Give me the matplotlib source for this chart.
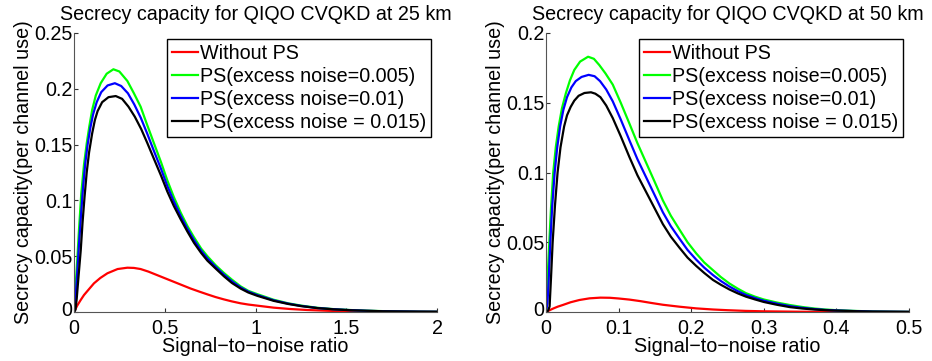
import matplotlib
matplotlib.use("Agg")
import matplotlib.pyplot as plt
from matplotlib.transforms import ScaledTranslation

plt.rcParams['font.family'] = ['Liberation Sans', 'DejaVu Sans']

# ---- data ----
labels = ['Without PS', 'PS(excess noise=0.005)', 'PS(excess noise=0.01)', 'PS(excess noise = 0.015)']
colors = ['#ff0000', '#00ff00', '#0000ff', '#000000']

# 25 km
x25_red = [0, 0.018, 0.037, 0.055, 0.08, 0.11, 0.145, 0.184, 0.24, 0.294, 0.33, 0.367, 0.41, 0.459, 0.505, 0.551, 0.597,
           0.643, 0.69, 0.735, 0.78, 0.826, 0.87, 0.918, 0.96, 1.01, 1.10, 1.19, 1.285, 1.4, 1.5, 1.62, 1.75, 1.9, 2.0]
y25_red = [0, 0.0058, 0.0108, 0.0152, 0.020, 0.0257, 0.0305, 0.0347, 0.0385, 0.0397, 0.0395, 0.0385, 0.0362, 0.033, 0.030,
           0.027, 0.024, 0.021, 0.0183, 0.0158, 0.0134, 0.0113, 0.0095, 0.0078, 0.0067, 0.0057, 0.0039, 0.0027, 0.0018,
           0.0011, 0.0007, 0.0004, 0.0003, 0.0002, 0.0001]

x25_green = [0, 0.005, 0.01, 0.018, 0.028, 0.04, 0.055, 0.07, 0.085, 0.10, 0.12, 0.147, 0.18, 0.217, 0.25, 0.294, 0.33,
             0.367, 0.40, 0.441, 0.48, 0.514, 0.55, 0.588, 0.625, 0.661, 0.70, 0.735, 0.78, 0.826, 0.87, 0.918, 0.96,
             1.01, 1.10, 1.18, 1.25, 1.34, 1.43, 1.52, 1.61, 1.7, 1.8, 1.9, 2.0]
y25_green = [0, 0.012, 0.026, 0.047, 0.075, 0.106, 0.132, 0.151, 0.167, 0.181, 0.194, 0.205, 0.2135, 0.2175, 0.2155,
             0.207, 0.196, 0.184, 0.169, 0.151, 0.134, 0.118, 0.103, 0.089, 0.077, 0.067, 0.057, 0.050, 0.042, 0.035,
             0.029, 0.023, 0.019, 0.016, 0.011, 0.0078, 0.0058, 0.0038, 0.0026, 0.0018, 0.0012, 0.0008, 0.0005, 0.0003,
             0.0002]

x25_blue = [0, 0.004, 0.01, 0.018, 0.028, 0.04, 0.05, 0.062, 0.075, 0.09, 0.105, 0.125, 0.15, 0.185, 0.225, 0.26, 0.297,
            0.332, 0.368, 0.403, 0.441, 0.48, 0.514, 0.55, 0.588, 0.625, 0.661, 0.70, 0.735, 0.78, 0.826, 0.87, 0.918,
            0.96, 1.01, 1.10, 1.18, 1.25, 1.34, 1.43, 1.52, 1.61, 1.7, 1.8, 1.9, 2.0]
y25_blue = [0, 0.003, 0.016, 0.036, 0.062, 0.09, 0.112, 0.133, 0.150, 0.165, 0.177, 0.188, 0.197, 0.203, 0.205, 0.2025,
            0.196, 0.186, 0.174, 0.160, 0.144, 0.128, 0.113, 0.099, 0.086, 0.0745, 0.0645, 0.055, 0.048, 0.0405, 0.0335,
            0.0275, 0.022, 0.0183, 0.0152, 0.0105, 0.0075, 0.0055, 0.0036, 0.0025, 0.0017, 0.0011, 0.0007, 0.0005,
            0.0003, 0.0002]

x25_black = [0, 0.008, 0.015, 0.025, 0.037, 0.047, 0.058, 0.07, 0.083, 0.10, 0.115, 0.13, 0.155, 0.19, 0.23, 0.265, 0.30,
             0.335, 0.37, 0.405, 0.441, 0.48, 0.514, 0.55, 0.588, 0.625, 0.661, 0.70, 0.735, 0.78, 0.826, 0.87, 0.918,
             0.96, 1.01, 1.10, 1.18, 1.25, 1.34, 1.43, 1.52, 1.61, 1.7, 1.8, 1.9, 2.0]
y25_black = [0, 0.002, 0.012, 0.032, 0.055, 0.08, 0.103, 0.125, 0.143, 0.160, 0.172, 0.180, 0.188, 0.1925, 0.1935, 0.191,
             0.184, 0.175, 0.164, 0.151, 0.137, 0.122, 0.108, 0.095, 0.083, 0.072, 0.062, 0.053, 0.046, 0.039, 0.032,
             0.026, 0.021, 0.0175, 0.0145, 0.010, 0.0072, 0.0053, 0.0035, 0.0024, 0.0016, 0.0011, 0.0007, 0.0005,
             0.0003, 0.0002]

# 50 km
x50_red = [0, 0.005, 0.01, 0.016, 0.023, 0.034, 0.046, 0.06, 0.075, 0.088, 0.10, 0.115, 0.13, 0.145, 0.161, 0.184, 0.207,
           0.23, 0.25, 0.275, 0.30, 0.35, 0.4, 0.5]
y50_red = [0, 0.0013, 0.0025, 0.0038, 0.005, 0.007, 0.0086, 0.0098, 0.0103, 0.0102, 0.0097, 0.0089, 0.0078, 0.0065,
           0.0052, 0.0038, 0.0026, 0.0018, 0.0013, 0.0008, 0.0005, 0.0002, 0.0001, 0.0]

x50_green = [0, 0.002, 0.0046, 0.007, 0.010, 0.0135, 0.0175, 0.022, 0.0275, 0.033, 0.039, 0.047, 0.058, 0.066, 0.0735,
             0.082, 0.092, 0.103, 0.115, 0.126, 0.138, 0.15, 0.161, 0.172, 0.184, 0.195, 0.207, 0.218, 0.23, 0.241,
             0.2525, 0.264, 0.2755, 0.288, 0.30, 0.318, 0.336, 0.353, 0.37, 0.385, 0.40, 0.425, 0.45, 0.475, 0.5]
y50_green = [0, 0.022, 0.05, 0.075, 0.10, 0.118, 0.133, 0.146, 0.157, 0.166, 0.1735, 0.1795, 0.183, 0.1815, 0.177, 0.171,
             0.163, 0.150, 0.135, 0.121, 0.107, 0.093, 0.080, 0.069, 0.059, 0.050, 0.042, 0.0355, 0.030, 0.025, 0.0205,
             0.0168, 0.0135, 0.011, 0.009, 0.0068, 0.005, 0.0036, 0.0025, 0.0018, 0.0013, 0.0008, 0.0004, 0.0002, 0.0001]

x50_blue = [0, 0.002, 0.0035, 0.006, 0.0085, 0.012, 0.0155, 0.0195, 0.024, 0.029, 0.035, 0.041, 0.049, 0.0588, 0.067,
            0.0745, 0.083, 0.092, 0.103, 0.115, 0.126, 0.138, 0.15, 0.161, 0.172, 0.184, 0.195, 0.207, 0.218, 0.23, 0.241,
            0.2525, 0.264, 0.2755, 0.288, 0.30, 0.318, 0.336, 0.353, 0.37, 0.385, 0.40, 0.425, 0.45, 0.475, 0.5]
y50_blue = [0, 0.006, 0.02, 0.05, 0.075, 0.10, 0.118, 0.133, 0.145, 0.154, 0.161, 0.1655, 0.1685, 0.170, 0.169, 0.1655,
            0.1595, 0.151, 0.138, 0.123, 0.1095, 0.0965, 0.0835, 0.0715, 0.0615, 0.0525, 0.0445, 0.0375, 0.0318, 0.0265,
            0.0222, 0.0183, 0.015, 0.0122, 0.010, 0.0081, 0.006, 0.0042, 0.003, 0.0021, 0.0015, 0.0011, 0.0007, 0.0003,
            0.0002, 0.0001]

x50_black = [0, 0.003, 0.005, 0.007, 0.0092, 0.0125, 0.016, 0.020, 0.025, 0.029, 0.034, 0.039, 0.045, 0.053, 0.062,
             0.068, 0.075, 0.083, 0.092, 0.103, 0.115, 0.126, 0.138, 0.15, 0.161, 0.172, 0.184, 0.195, 0.207, 0.218,
             0.23, 0.241, 0.2525, 0.264, 0.2755, 0.288, 0.30, 0.318, 0.336, 0.353, 0.37, 0.385, 0.40, 0.425, 0.45,
             0.475, 0.5]
y50_black = [0, 0.001, 0.004, 0.025, 0.05, 0.077, 0.10, 0.118, 0.133, 0.141, 0.147, 0.1515, 0.155, 0.157, 0.1575, 0.1565,
             0.154, 0.148, 0.139, 0.126, 0.111, 0.098, 0.086, 0.074, 0.063, 0.054, 0.046, 0.039, 0.033, 0.028, 0.023,
             0.0195, 0.0162, 0.0134, 0.011, 0.009, 0.0072, 0.0052, 0.0035, 0.0025, 0.0018, 0.0013, 0.001, 0.0006,
             0.0003, 0.0002, 0.0001]

panels = [
    dict(title='Secrecy capacity for QIQO CVQKD at 25 km',
         series=[(x25_red, y25_red), (x25_green, y25_green), (x25_blue, y25_blue), (x25_black, y25_black)],
         xlim=2, ylim=0.25,
         xticks=[0, 0.5, 1, 1.5, 2], xticklabels=['0', '0.5', '1', '1.5', '2'],
         yticks=[0, 0.05, 0.1, 0.15, 0.2, 0.25], yticklabels=['0', '0.05', '0.1', '0.15', '0.2', '0.25']),
    dict(title='Secrecy capacity for QIQO CVQKD at 50 km',
         series=[(x50_red, y50_red), (x50_green, y50_green), (x50_blue, y50_blue), (x50_black, y50_black)],
         xlim=0.5, ylim=0.2,
         xticks=[0, 0.1, 0.2, 0.3, 0.4, 0.5], xticklabels=['0', '0.1', '0.2', '0.3', '0.4', '0.5'],
         yticks=[0, 0.05, 0.1, 0.15, 0.2], yticklabels=['0', '0.05', '0.1', '0.15', '0.2']),
]

FS = 14.2

fig = plt.figure(figsize=(9.32, 3.61), dpi=100)
axes_pos = [[0.0794, 0.1357, 0.3895, 0.7729], [0.5858, 0.1357, 0.3895, 0.7729]]

for pos, p in zip(axes_pos, panels):
    ax = fig.add_axes(pos)
    for (xs, ys), c, lab in zip(p['series'], colors, labels):
        ax.plot(xs, ys, color=c, lw=1.6, label=lab, solid_joinstyle='round')
    ax.set_xlim(0, p['xlim'])
    ax.set_ylim(0, p['ylim'])
    ax.set_xticks(p['xticks'])
    ax.set_xticklabels(p['xticklabels'])
    ax.set_yticks(p['yticks'])
    ax.set_yticklabels(p['yticklabels'])
    ax.tick_params(direction='in', length=3, labelsize=FS, colors='#333333', labelcolor='black')
    ax.tick_params(axis='x', pad=5)
    ax.tick_params(axis='y', pad=1)
    # lift the "0" on the y axis a little so it clears the "0" below it
    lab0 = ax.get_yticklabels()[0]
    lab0.set_transform(lab0.get_transform() + ScaledTranslation(0, 2.5 / 72, fig.dpi_scale_trans))
    for s in ['top', 'right']:
        ax.spines[s].set_visible(False)
    for s in ['left', 'bottom']:
        ax.spines[s].set_color('#555555')
    ax.set_title(p['title'], fontsize=FS, pad=9)
    ax.set_xlabel('Signal\u2212to\u2212noise ratio', fontsize=FS, labelpad=-0.5)
    ax.set_ylabel('Secrecy capacity(per channel use)', fontsize=FS, labelpad=1)
    leg = ax.legend(loc='upper right', fontsize=FS, handlelength=1.3, handletextpad=0.1,
                    labelspacing=0.2, borderpad=0.25, borderaxespad=0.3, fancybox=False,
                    framealpha=1)
    leg.get_frame().set_edgecolor('black')
    leg.get_frame().set_linewidth(1.0)

fig.savefig('out.png', dpi=100)
